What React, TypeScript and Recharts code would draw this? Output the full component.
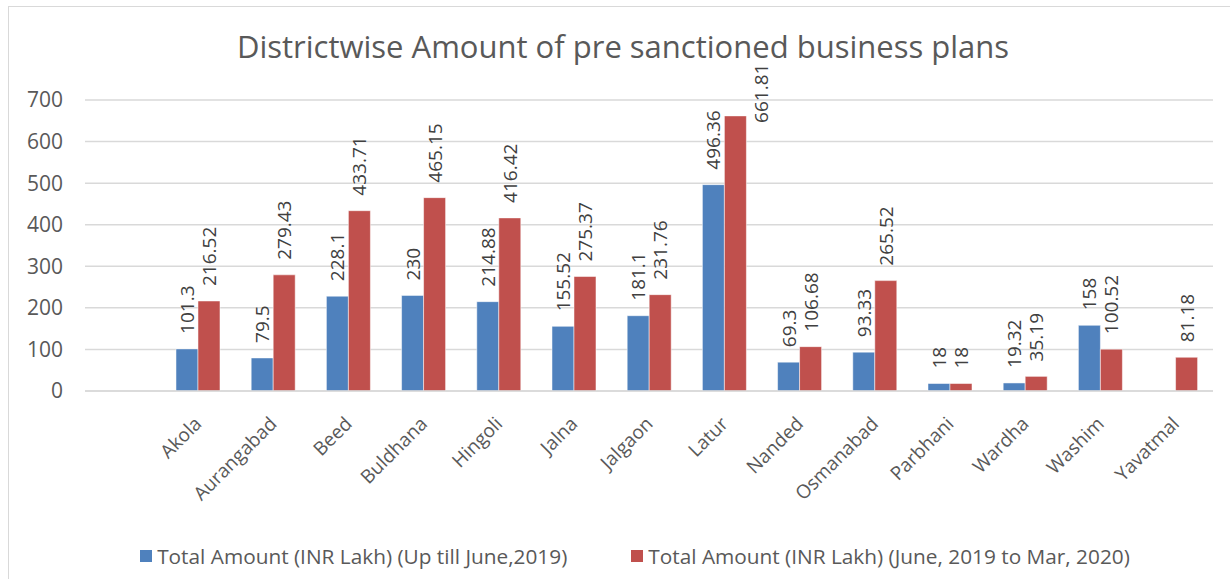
import { Bar, BarChart, CartesianGrid, LabelList, Legend, XAxis, YAxis } from 'recharts';

const districts = ['', 'Akola', 'Aurangabad', 'Beed', 'Buldhana', 'Hingoli', 'Jalna', 'Jalgaon', 'Latur', 'Nanded', 'Osmanabad', 'Parbhani', 'Wardha', 'Washim', 'Yavatmal'];
const uptoJune2019 = [null, 101.3, 79.5, 228.1, 230, 214.88, 155.52, 181.1, 496.36, 69.3, 93.33, 18, 19.32, 158, null];
const june2019ToMar2020 = [null, 216.52, 279.43, 433.71, 465.15, 416.42, 275.37, 231.76, 661.81, 106.68, 265.52, 18, 35.19, 100.52, 81.18];
const yTicks = [0, 100, 200, 300, 400, 500, 600, 700];

const series = [
  { key: 'a', name: 'Total Amount (INR Lakh) (Up till June,2019)', color: '#4F81BD' },
  { key: 'b', name: 'Total Amount (INR Lakh) (June, 2019 to Mar, 2020)', color: '#C0504D' },
];

const rows = districts.map((name, i) => ({ name, a: uptoJune2019[i], b: june2019ToMar2020[i] }));

const font = '"Open Sans", Lato, sans-serif';
const textColor = '#595959';
const labelSize = 19;

function ValueLabel(props: any) {
  const { x, y, width, value } = props;
  if (value == null) return null;
  const len = String(value).length * labelSize * 0.55;
  let cx = x + width / 2;
  let ty = y - 15;
  // too tall to sit above the bar: put it beside the bar like Excel does
  if (ty - len < 50) {
    cx = x + width + 15;
    ty = y + 7;
  }
  return (
    <text x={cx} y={ty} transform={`rotate(-90, ${cx}, ${ty})`} textAnchor="start" dominantBaseline="central"
      fontSize={labelSize} fontFamily={font} fill="#404040">
      {value}
    </text>
  );
}

function DistrictTick(props: any) {
  const { x, y, payload } = props;
  const px = x + 5;
  const py = y + 26;
  return (
    <text x={px} y={py} transform={`rotate(-45, ${px}, ${py})`} textAnchor="end"
      fontSize={19} fontFamily={font} fill={textColor}>
      {payload.value}
    </text>
  );
}

function LegendBox() {
  return (
    <div style={{ display: 'flex', justifyContent: 'center', gap: 64, paddingLeft: 48, fontFamily: font, fontSize: 20.8, color: textColor }}>
      {series.map((s) => (
        <span key={s.key} style={{ display: 'flex', alignItems: 'center' }}>
          <span style={{ width: 12, height: 12, background: s.color, marginRight: 5, display: 'inline-block' }} />
          {s.name}
        </span>
      ))}
    </div>
  );
}

export default function App() {
  return (
    <div style={{ position: 'absolute', left: 8, top: 6, width: 1230, height: 580, border: '1px solid #d9d9d9', background: '#fff' }}>
      <div style={{ position: 'absolute', left: 0, top: 18, width: 1228, textAlign: 'center', fontFamily: font, fontSize: 31, color: textColor }}>
        Districtwise Amount of pre sanctioned business plans
      </div>
      <BarChart width={1221} height={572} data={rows} margin={{ top: 93, right: 17, left: 0, bottom: 9 }}
        barCategoryGap="21%" barGap={0}>
        <CartesianGrid vertical={false} stroke="#d9d9d9" strokeWidth={1.5} />
        <XAxis dataKey="name" interval={0} height={151} tick={<DistrictTick />} tickLine={false}
          axisLine={{ stroke: '#d9d9d9', strokeWidth: 1.5 }} />
        <YAxis domain={[0, 700]} ticks={yTicks} width={76} axisLine={false} tickLine={false} tickSize={0} tickMargin={22}
          tick={{ fontSize: 21, fontFamily: font, fill: textColor }} />
        <Legend verticalAlign="bottom" content={<LegendBox />} />
        {series.map((s) => (
          <Bar key={s.key} dataKey={s.key} name={s.name} fill={s.color} stroke="#fff" strokeOpacity={0.5} strokeWidth={1} isAnimationActive={false}>
            <LabelList dataKey={s.key} content={<ValueLabel />} />
          </Bar>
        ))}
      </BarChart>
    </div>
  );
}
